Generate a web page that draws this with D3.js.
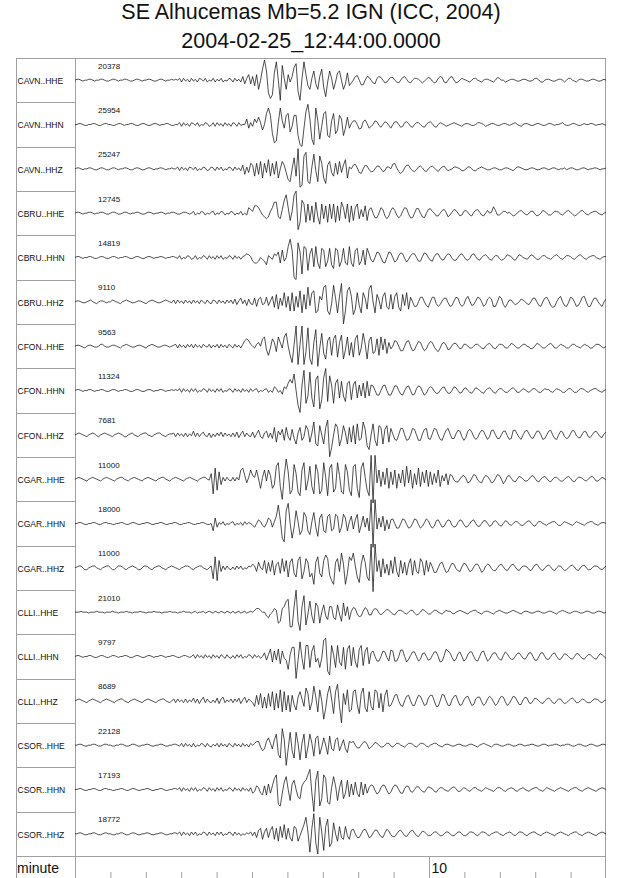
<!DOCTYPE html>
<html><head><meta charset="utf-8">
<script src="https://cdn.jsdelivr.net/npm/d3@7"></script>
<style>
body{margin:0;background:#fff}
svg{display:block}
text{font-family:"Liberation Sans",Arial,Helvetica,sans-serif;fill:#111}
</style>
</head><body>
<svg id="c" width="640" height="878"></svg>
<script>
const titleLines = ["SE Alhucemas Mb=5.2 IGN (ICC, 2004)", "2004-02-25_12:44:00.0000"];
const stations = ["CAVN","CAVN","CAVN","CBRU","CBRU","CBRU","CFON","CFON","CFON","CGAR","CGAR","CGAR","CLLI","CLLI","CLLI","CSOR","CSOR","CSOR"];
const channels = ["HHE","HHN","HHZ","HHE","HHN","HHZ","HHE","HHN","HHZ","HHE","HHN","HHZ","HHE","HHN","HHZ","HHE","HHN","HHZ"];
const amplitudes = [20378,25954,25247,12745,14819,9110,9563,11324,7681,11000,18000,11000,21010,9797,8689,22128,17193,18772];
const minuteTicks = [1,2,3,4,5,6,7,8,9,10,11,12,13,14];
const labeledMinutes = [10];
const timeSpan = [0, 15];
// Samples, in twelfths of the printed amplitude:
// upper case A..Y = -12..+12 (M = 0), lower case a..y = -6..+6 in half steps (m = 0), "+" / "-" = +13 / -13
const traces = [
"mnnmlmmnnm lmmnnmllmn nmlmmnnmll mnnmlmmnnm llmnnmlmmn mnmokolnko lnkonlokml oknlokmlon kolnkOKNPK OJPHMSXRFC EQWMBUNHPL OTVGBNWPJH NRKHOSIDLR NHLQRMHKQJ jmqrmhhmqp mjioqpmjkn ppmkjmpqnk jmoonljlnp oljkoqpkjm pqmjkmonml kmoomlkmnn mlkmpommkl mnnmllmnnm llmoomkkmn nmllmnnmkm oomlkmnnml lmnnmllmnm",
"mmnnmllmmn nmllmnnmml lmnnmlmmnn mllmnnmllm nnmlmmnnml lmmokolnko nlokmlonkl okolnkolnk onkolMMPKN LPNQNJMSVR HCDNVOKRSI LRRGBAKTXP EBVOELSTGF OSHJRPGKQK nqqmhiprni kmqpljmpol imppmjkopn kjmoomkjmo pnkjmonmkl mnonmlkmnn mllmoonmkl mnnmllmnnm lmnomlkmnn mllmnnmllm nnmlmmnoml lmnnmllmnm mnnmlmmnml",
"mnnmlmmnnm llmnnmllmn nmlmmnnmll mnnmllmnnm lmmnnmlmmn mmokolnkon lokmlonklo nkolokmlon kolnkOJNKP OIPJQHPKRI PJQHMQOKGF MSIXCDTVFE NULFTPHEOQ KIPJQKORHN mqrnihmqpl jjmppmjkoo mrsnjhjnqq mkjlopnkjm opnljmopmk lmoonmkkmo omkkmnonml lmnnmllmnn mlkmoonmll mnnmllmnnm lmnnmlmmnl mnnmllmnnm lmmnnmlmmn",
"mnnmlmmnnm lmmnnmllmn nmllmnnmlm mnnmllmnnm lmmnnmlmmn nmllmnnmlm okmlonkmln okmlonkmlo nkmlokMLPO NQQPNLKJKN PSSKJOTWPI NWYDHTRHRI QHSKGRJQHR JRHQISPJRH QIPRJOKQIO smhhmsqjgj pspkhjosrl hhmrrmihmq romjjmpqni knqpmjkopn kjnpqnkjmp mntpkkmoom nljkmopnlk mooljkmpom kkmoonlkmo pnljkmopnl kmnoomlkmn",
"mnnmlmmnnm llmnnmllmn nmlmmnnmll mnnmllmnnm lmmnnmlmmn nmlokmlonk lokmlonkol nkolokmlon kolnknoqpn KJJKMLKINM LONPJQKMSW QBAUPDSRFO RHSJGRQHKR IGRQHKRJIS JHQRIKQIRO jhmsrmhgms rmhjorqlhk oqqmiinrqm jinqqmjkoq pljjmpqnkj lpqnkjmopn kjmooljkmp onkjmpomlk mpomkkmoom lkmopnlkmo onlkmopnlk mnoomlkmnn",
"mnnmllmnom lkmnnmlmmo nmlkmnonml lmnnmlkmno nmllmnonml okolnkolnk olnkomkolk onkolnkolo kpjnqkoipk jqhprjkrin PJQIOKRJPH RHPJSGQIUK RSGHPNUVHF LVOGPWAHSU PFIRKGROIT VMGQNIPRJI QIPRJHQKRI rmhhmrrmig mrrkhjnqql hinrqkhjps nijnrqmhjp rphhmsqjgk ooljkmpomk jmqqmihmqr nighmqsmih lrqmhimrsm hhmqqmjhmp",
"mnnmlkmnnm llmoomllmn nmlkmnonml lmnnmlkmno nmllmnnmlm nokolnkolo kolnkomlok nlokolnkom kolnkNPQPN MLNOMQRKHL QOJROLRTMH DNXCNXCJWF COVBLTIFPR HQSGOSFKRH OGQSHLTNFP RIJQHRKQIO jmsrmhhmrs mhinrqlhjo rqligkpqni jnppmjkoom kkmoomkjmo pnkjmoonkk mpomkkmoom ljkmpomkkm opnkkmonmk kmoomlkmon mkkmoonlkm",
"mnnmlmmnnm lmmnnmllmn nmlmmnnmll mnnmllmnnm lmmnnmlmmn mnmokolnko lokmlonkol nkolokmlon kolnkolnko lnokmlnokm LONLMKONQS QVMEAPXFJW IDSUCHTYGU PFQSIRJGQR HPRIPJQIRJ srmhhmrsmh hmrrmihmqr mhiorqlhjo qpljjmpqmj jmqpmjkopm kjmpomkjmo pnkjmoomkk mopnkkmonl kmoomkkmon nlkmonmkkm oomkkmoonl kmnoomlkmn",
"mnonmlkmno nlkmnonmlk mnonmkkmno mlkmnoomlk mnoomlkmnn okolnkoknl qkoknplkoj nkolpkolnk okpjnqkolk pjnrkioqjo KQIOMPJQLJ PKHNQJLRPI NTHGRMHQUA FMSQGKRNHQ IRHSJKTPGE MSJGRQHPRI tnhgmttmgh mtsmggnsti hntsmhgmrt niinrqkgjq spkhjorqlh krrmiimqql hirrnjhmqr njimqqmhim qrmihmqpki jnrqljjnqp kjmpqnkjnp",
"mnonmlkmno nmlkmnonml kmnoomlkmn onmlkmnonm lkmnoomlkm nonmlkmnon mlkmnoomlP ESGQJokolk okolRSOKNR ONRMHNRLRO HJTVIBOXQE GUPFDRVGLT IEUQEGVNDS UFHVOFEUQG DTUHCSVNGD +-+KRIQJSH QJRHPKRITK RHPJSIQKRI QJPKRIOLPJ rqljjmpqni jnrqljinqp mijnrqmhkp qnkjmpomkk mpqnkjmopn kjmoomkkmo pnkjmoonlk mopnkkmonl",
"mmnnmllmmn nmllmnnmml lmmnnmllmn nmllmmnnml lmmnnmllmm nnmllmmnnm llmmnnmllm IPKnlokmln okmlnkolnm LKMONLKMPO KNQWOECTXM EKTNGISQIG NSKFPRIHQR IJRQHKRPIN QJORHLQKPI +-+JPKQIOJ qrmhhmrqlh imrqlhjnrp khjpqmijnq pkijnqplij mpqmjjmppm jkopnkjmpo lkmoomkkmo pnkjmoomlk mnoomkkmon mlkmonmlkm noomlkmnnm",
"mnoomkkmno omlkmnoomk kmoonlkmno nmkkmoonlk mnoomlkmno nmlkmnoonl kmnoomlkmo GSFQKokolk nkolokmlon ONKPMLQJPK QIOPJRKQHP RJHQSGKRPH JDPSJHQTRI FDPRKUODJS QUNHEOTPHF +-+KQHRJOI QJSKHQJPIO RIQKJRPIQK snhhmrsmhi nrqljinrqm ijnqqmhjoq pljjmpqnkj mpqnkjmoon kjmpqnkjmo pnkjmooljk mopnkjmopm kkmoonlkmo",
"mmmnmmmlmm mnmmmlmmmn mmlmmmnmml mmmnmmlmmm nmmmlmmmnm mmlmmnmmml mnlmmnlmnm lnmlnmlnml nlmnlmnlmn MNOONMMKJL MONGHOPSTE EPYHCPVFLS KGRPGMQKIP PJIQLHRKPI nrqkhinrpj joqpljlnpo mkjmoonlkm ooljkmpomk kmoomlkmon nlkmnonmlk mnoomlkmnn mlkmnonmll mnonmlkmnn mllmnnmllm nnmlkmnonm llmnnmllmn nmllmnnmlm",
"mnnmlmmnnm llmnnmllmn nmlmmnnmll mnnmllmnnm lmmnnmlmmn nmllmnnmlm okolnkolnk olnkomkolk nkolokmlon kolnkMOKNQ JPKQIPLKFN RRAKULFSSG PSJLGLVWEC SNGSJHRFQS HRJGQSHPRI qsmhhmsrlh tshhmttmgj nrrmhjpqmi jnrrmghnus qlhjprmhjo rrmihmrsmh jnqqmjinrp ljjmpqnkjm qqmiimqqmj jmpqmjjmpo mkjmppmkjm oomkjmpomk",
"mnonmlkmno nmlkmnonml kmnoomlkmn onmlkmnonm lkmnoomlkm okolnkoknl pkojnqkolk nkpjoqknlo kolpjnqkom LJPKQIOIQJ RHQISGRHPG PKHORNJTQH LUOGSMCIQU NFRVJAQKSG HRSKFQTIGR JHSRIQGPSJ hmstmhgmrs mhhnsrmhip ssmggmtsmh hnrsmhinqr mhioqqlhjo rplhjorqlh jnrqmiinqp kjmpomkjmo pnkjmooljk mopnkkmonl kkmoonlkmn",
"mmnnmllmmn nmllmnnmml lmmnnmllmn nmllmmnnml lmmnnmllmm nnmlokolnk okmlonkolk nlokolnkom kolnkolnko MNOOLJKOQN KPSHFVPBKT JFTNENSFLS NGQRHLQMHR KJPQJMPKIO pqmjjmpqni kmpomkkmoo lkmoomlkmo onlkmoonlk mnoomlkmnn mllmnnmllm nnmlkmnonm lkmnnmllmn nmllmnnmlm mnnmllmnnm lmmnnmlmmn nmllmnnmll mnnmllmnnm",
"mmnnmllmmn nmllmnnmml lmmnnmllmn nmllmmnnml lmmnnmllmm nnmokolnko lokmlonkol nkolokmlon kolnkolnko KLONKJOJPK OSUEDKQTMG PRMIHOQRUX KARWDHUSFE NTOGNRHKRI PJQKIQJPKN rqlhjorqlh jorqmiinqp kjmppmkjmp onkjmoomlk mopnkkmonl kmoomlkmon mlkmoonlkm nonlkmnoml kmnoomlkmo nmlkmnonml kmnoomlkmn onmlkmnonm",
"mmnnmllmmn nmllmnnmml lmmnnmllmn nmllmmnnml lmmnnmllmm nnmokolnko lokmlonkol nkolokmlon kolnkmlnmo LNKOPJNPKO QJPIQKRJPK IQPILORVNC PXHBVNDQUF HSMIQKJQLJ qrmiimqrni jnqqmjinrp ljjmpqnkjm pqnkjmpomk kmoomkkmoo mkkmoomkkm oonlkmoonl kmnoomlkmn onlkmoonlk mnoomlkmno nmlkmnonml kmnoomlkmn onmlkmnonm"
];

function decode(str, amp) {
  return str.replace(/\s+/g, "").split("").map(c => {
    let u;
    if (c === "+") u = 13;
    else if (c === "-") u = -13;
    else if (c >= "A" && c <= "Z") u = c.charCodeAt(0) - 77;
    else u = (c.charCodeAt(0) - 109) / 2;
    return u * amp / 12;
  });
}

const svg = d3.select("#c");
const L = 16, R = 606, T = 58, B = 878, labelR = 75, axisY = 856;
const nRows = stations.length;
const rowH = (axisY - T) / nRows;
const halfH = 22;
const x = d3.scaleLinear().domain(timeSpan).range([labelR, R]);
const frameCol = "#a0a0a0";

// title
svg.selectAll("text.title").data(titleLines).join("text")
  .attr("class", "title")
  .attr("x", (L + R) / 2)
  .attr("y", (d, i) => i === 0 ? 19 : 48)
  .attr("text-anchor", "middle")
  .attr("font-size", 21.5)
  .text(d => d);

// frame
svg.append("rect").attr("x", L + 0.5).attr("y", T + 0.5)
  .attr("width", R - L - 1).attr("height", B - T)
  .attr("fill", "none").attr("stroke", frameCol).attr("stroke-width", 1);
svg.append("line").attr("x1", labelR + 0.5).attr("x2", labelR + 0.5)
  .attr("y1", T).attr("y2", B).attr("stroke", frameCol);
svg.append("line").attr("x1", L).attr("x2", R).attr("y1", axisY + 0.5).attr("y2", axisY + 0.5)
  .attr("stroke", frameCol);
svg.selectAll("line.rowsep").data(d3.range(1, nRows)).join("line")
  .attr("class", "rowsep")
  .attr("x1", L).attr("x2", labelR)
  .attr("y1", d => Math.round(T + d * rowH) + 0.5)
  .attr("y2", d => Math.round(T + d * rowH) + 0.5)
  .attr("stroke", frameCol);

// traces
const rows = svg.append("g");
stations.forEach((st, i) => {
  const mid = T + rowH * (i + 0.5);
  const amp = amplitudes[i];
  const vals = decode(traces[i], amp);
  const step = (timeSpan[1] - timeSpan[0]) / (vals.length - 1);
  const y = d3.scaleLinear().domain([-amp, amp]).range([mid + halfH, mid - halfH]);
  const line = d3.line().x((d, j) => x(timeSpan[0] + j * step)).y(d => y(d));
  rows.append("path").attr("d", line(vals))
    .attr("fill", "none").attr("stroke", "#151515").attr("stroke-width", 0.75)
    .attr("stroke-linejoin", "round");
  rows.append("text").attr("x", 17.5).attr("y", mid + 3.7)
    .attr("font-size", 8.5).text(st + ".." + channels[i]);
  rows.append("text").attr("x", 98).attr("y", T + rowH * i + 10.6)
    .attr("font-size", 8).text(amp);
});

// time axis
const minorAxis = d3.axisTop(x)
  .tickValues(minuteTicks.filter(v => !labeledMinutes.includes(v)))
  .tickSize(6).tickFormat("");
const ga = svg.append("g").attr("transform", `translate(0,${B})`).call(minorAxis);
ga.select(".domain").remove();
ga.selectAll(".tick line").attr("stroke", frameCol);
const majorAxis = d3.axisTop(x).tickValues(labeledMinutes).tickSize(B - axisY).tickFormat("");
const gm = svg.append("g").attr("transform", `translate(0,${B})`).call(majorAxis);
gm.select(".domain").remove();
gm.selectAll(".tick line").attr("stroke", frameCol);
svg.selectAll("text.minlab").data(labeledMinutes).join("text")
  .attr("class", "minlab").attr("x", d => x(d) + 2.5).attr("y", 872.5)
  .attr("font-size", 14).text(d => d);
svg.append("text").attr("x", 17).attr("y", 873).attr("font-size", 14).text("minute");
</script>
</body></html>
